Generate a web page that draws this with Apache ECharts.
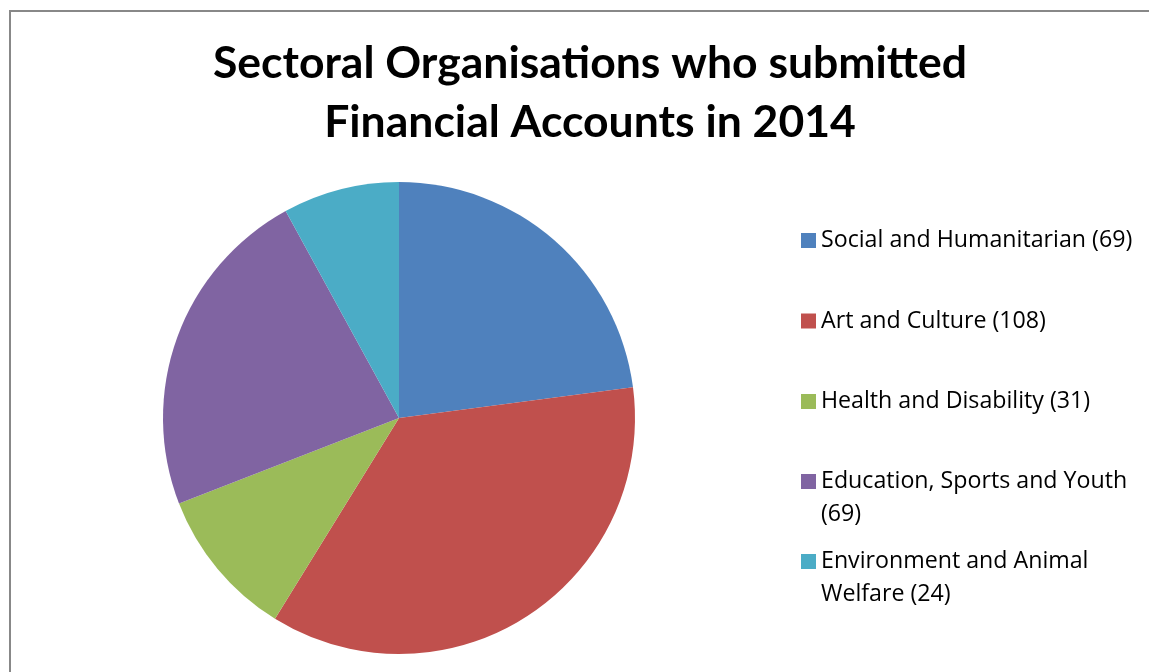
<!DOCTYPE html>
<html>
<head>
<meta charset="utf-8">
<script src="https://cdn.jsdelivr.net/npm/echarts@6/dist/echarts.min.js"></script>
<style>
  html, body { margin: 0; padding: 0; background: #fff; }
  #chart { width: 1149px; height: 672px; }
</style>
</head>
<body>
<div id="chart"></div>
<script>
// data
const sectors = ['Social and Humanitarian', 'Art and Culture', 'Health and Disability',
                 'Education, Sports and Youth', 'Environment and Animal Welfare'];
const counts = [69, 108, 31, 69, 24];
const legendLabels = ['Social and Humanitarian (69)', 'Art and Culture (108)', 'Health and Disability (31)',
                      'Education, Sports and Youth\n(69)', 'Environment and Animal\nWelfare (24)'];
const colors = ['#4F81BD', '#C0504D', '#9BBB59', '#8064A2', '#4BACC6'];

const LH = 33;
const markerY = [240.5, 321, 401.5, 481.5, 561.5];

let chart = echarts.init(document.getElementById('chart'));

// one legend per entry; an empty first line keeps the marker on the first text line
const legends = sectors.map((name, i) => {
  const twoLines = legendLabels[i].indexOf('\n') >= 0;
  return {
    orient: 'vertical',
    left: 801,
    top: twoLines ? markerY[i] - LH * 1.5 : markerY[i] - LH / 2,
    padding: 0,
    itemWidth: 15,
    itemHeight: 15,
    itemGap: 0,
    icon: 'rect',
    selectedMode: false,
    formatter: () => twoLines ? '\n' + legendLabels[i] : legendLabels[i],
    textStyle: {
      fontFamily: 'Open Sans',
      fontSize: 23.2,
      color: '#000',
      lineHeight: LH
    },
    data: [name]
  };
});

chart.setOption({
  animation: false,
  color: colors,
  title: {
    text: 'Sectoral Organisations who submitted\nFinancial Accounts in 2014',
    left: 585,
    textAlign: 'center',
    top: 29,
    textStyle: {
      fontFamily: 'Lato',
      fontWeight: 'bold',
      fontSize: 44.5,
      lineHeight: 59,
      color: '#000'
    }
  },
  legend: legends,
  graphic: [{
    type: 'rect',
    shape: { x: 10, y: 11, width: 1200, height: 700 },
    style: { fill: 'none', stroke: '#888', lineWidth: 2 },
    silent: true
  }],
  series: [{
    type: 'pie',
    center: [399, 418],
    radius: 236,
    startAngle: 90,
    clockwise: true,
    label: { show: false },
    labelLine: { show: false },
    emphasis: { disabled: true },
    data: sectors.map((s, i) => ({ name: s, value: counts[i] }))
  }]
});
</script>
</body>
</html>
